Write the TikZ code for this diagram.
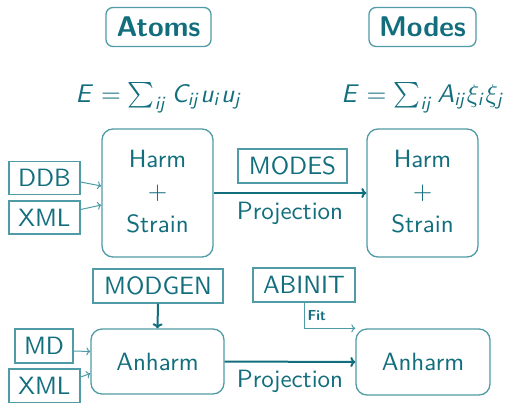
\documentclass[tikz,border=0pt]{standalone}
\usepackage{amsmath}
\usepackage{graphicx}
\usetikzlibrary{arrows.meta,calc}
\definecolor{tx}{RGB}{18,110,125}
\definecolor{bd}{RGB}{80,155,165}
\DeclareMathAlphabet{\mathssl}{OT1}{cmss}{m}{sl}
\newcommand{\sct}[2][2.5]{\scalebox{#1}{\fontsize{10}{13}\selectfont\sffamily #2}}
\begin{document}
\begin{tikzpicture}[x=1pt,y=-1pt, font=\sffamily, text=tx,
  titlebox/.style={draw=bd, line width=1.3pt, rounded corners=7pt, inner sep=0pt,
    minimum height=39pt},
  bigbox/.style={draw=bd, line width=1.3pt, rounded corners=11pt, inner sep=0pt,
    align=center},
  inbox/.style={draw=bd, line width=1.3pt, inner sep=0pt, minimum height=33pt},
  plain/.style={inner sep=0pt},
  formula/.style={inner sep=0pt},
  thin arrow/.style={draw=bd, line width=1pt, -{To[length=4pt,width=8pt]}},
  thick arrow/.style={draw=tx, line width=2pt, -{To[length=5pt,width=10pt]}},
]
\useasboundingbox (0,0) rectangle (511,402);

\node[titlebox, minimum width=105pt] (atoms) at (158.5,27) {\sct[2.85]{\bfseries Atoms}};
\node[titlebox, minimum width=107pt] (modes) at (422.5,27) {\sct[2.85]{\bfseries Modes}};

\node[formula] (f1) at (159,98) {\scalebox{2.55}{$\mathssl{E}=\sum_{\mathssl{ij}}\mathssl{C}_{\mathssl{ij}}\mathssl{u}_{\mathssl{i}}\mathssl{u}_{\mathssl{j}}$}};
\node[formula] (f2) at (423,98) {\scalebox{2.55}{$\mathssl{E}=\sum_{\mathssl{ij}}\mathssl{A}_{\mathssl{ij}}\xi_{\mathssl{i}}\xi_{\mathssl{j}}$}};

\node[bigbox, minimum width=111pt, minimum height=128pt] (hl) at (157.5,193)
  {\raisebox{-3pt}{\sct{\begin{tabular}{@{}c@{}}Harm\\$+$\\Strain\end{tabular}}}};
\node[bigbox, minimum width=111pt, minimum height=128pt] (hr) at (422.5,193)
  {\raisebox{-3pt}{\sct{\begin{tabular}{@{}c@{}}Harm\\$+$\\Strain\end{tabular}}}};

\node[inbox, minimum width=71pt] (ddb) at (44.5,178) {\sct{DDB}};
\node[inbox, minimum width=71pt] (xml) at (44.5,217.5) {\sct{XML}};

\node[inbox, minimum width=109pt, minimum height=34pt] (modesbox) at (292.5,166) {\sct{MODES}};
\node[plain] (proj1) at (290,213) {\sct{Projection}};

\node[inbox, minimum width=130pt, minimum height=34pt] (modgen) at (158,286) {\sct{MODGEN}};
\node[inbox, minimum width=102pt, minimum height=34pt] (abinit) at (304,285) {\sct{ABINIT}};

\node[bigbox, minimum width=133pt, minimum height=65pt] (anl) at (157.5,361.5) {\sct{Anharm}};
\node[bigbox, minimum width=134pt, minimum height=66pt] (anr) at (423,362) {\sct{Anharm}};

\node[inbox, minimum width=58pt, minimum height=34pt] (md) at (44,346) {\sct{MD}};
\node[inbox, minimum width=71pt, minimum height=34pt] (xmlb) at (44.5,386) {\sct{XML}};

\node[plain] (proj2) at (290,381) {\sct{Projection}};

\draw[thin arrow] ($(ddb.east)+(0,4)$) -- ($(hl.west)+(0,-7)$);
\draw[thin arrow] ($(xml.east)+(0,-8)$) -- ($(hl.west)+(0,12)$);
\draw[thin arrow] ($(md.east)+(0,5)$) -- ($(anl.west)+(0,-10)$);
\draw[thin arrow] ($(xmlb.east)+(0,-9)$) -- ($(anl.west)+(0,12)$);

\draw[thick arrow] (hl.east) -- (hr.west);
\draw[thick arrow] (anl.east) -- (anr.west);
\draw[thick arrow] (modgen.south) -- (anl.north);
\draw[thin arrow] (abinit.south) |- (anr.north west)
  node[pos=0.25, right=3pt, inner sep=0pt] (fit) {\scalebox{2.5}{\fontsize{5.8}{7}\selectfont\sffamily\bfseries Fit}};
\end{tikzpicture}
\end{document}
